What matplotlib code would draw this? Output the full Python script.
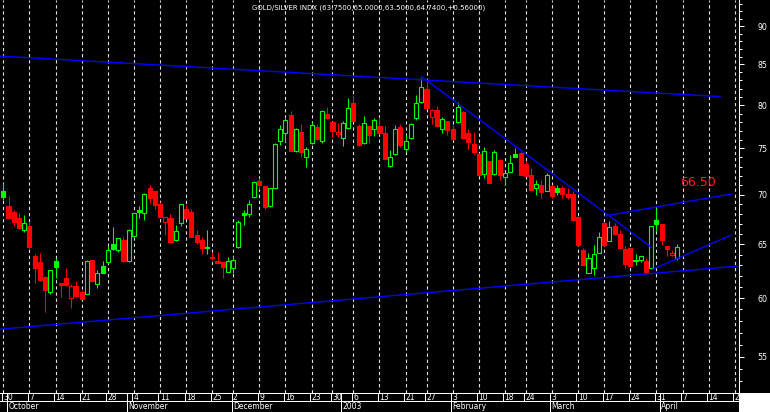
import numpy as np
import matplotlib.pyplot as plt
from matplotlib.patches import Rectangle
from matplotlib.ticker import FuncFormatter, NullFormatter

# daily OHLC, one entry per trading day starting 30 Sep 2002
opens = [70.38, 68.82, 68.21, 67.60, 66.43, 66.80, 63.88, 63.31, 61.91, 60.57,
         63.40, 61.38, 61.80, 60.06, 61.12, 60.54, 60.42, 63.50, 61.24, 62.93,
         63.28, 65.03, 64.48, 65.42, 63.43, 65.84, 68.41, 68.07, 70.72, 70.38,
         69.06, 67.23, 67.65, 65.39, 67.10, 68.51, 68.21, 65.91, 65.42, 64.72,
         63.81, 63.40, 63.33, 62.40, 62.72, 64.72, 68.07, 68.00, 69.72, 71.43,
         70.90, 68.82, 70.66, 75.86, 76.70, 78.82, 74.73, 76.85, 74.00, 75.56,
         77.46, 75.86, 78.94, 78.04, 76.58, 76.21, 77.34, 80.20, 77.54, 75.63,
         77.54, 77.15, 77.54, 76.77, 73.08, 74.37, 77.39, 74.97, 76.21, 78.44,
         80.32, 81.90, 78.62, 79.41, 77.16, 78.12, 77.19, 78.04, 79.21, 76.70,
         75.48, 74.37, 72.15, 73.60, 72.15, 73.71, 71.90, 72.44, 74.33, 74.51,
         73.27, 72.08, 70.66, 71.00, 70.41, 70.90, 70.72, 70.72, 70.06, 70.06,
         67.73, 64.46, 62.31, 62.72, 64.20, 67.07, 65.36, 66.80, 66.00, 64.52,
         64.62, 63.56, 63.56, 63.40, 62.72, 67.40, 66.97, 64.84, 63.98, 63.75]
highs = [71.25, 69.85, 68.41, 68.07, 67.90, 67.23, 64.04, 64.20, 62.00, 62.60,
         63.66, 61.40, 62.75, 61.30, 61.54, 60.78, 63.50, 63.55, 62.56, 63.40,
         64.84, 66.67, 65.60, 65.81, 66.50, 68.10, 68.85, 70.14, 71.00, 70.40,
         69.20, 67.70, 68.00, 66.90, 69.03, 68.92, 68.50, 66.40, 65.74, 66.40,
         64.23, 64.23, 63.35, 63.81, 63.91, 67.40, 68.45, 69.50, 71.40, 71.72,
         70.92, 70.70, 75.63, 77.66, 78.62, 79.29, 77.30, 77.77, 75.19, 78.00,
         77.77, 79.40, 79.80, 78.05, 77.85, 78.12, 80.88, 81.20, 77.77, 78.70,
         77.60, 78.50, 78.62, 77.58, 74.85, 77.66, 77.77, 76.50, 77.90, 81.20,
         83.30, 83.00, 79.50, 79.88, 78.62, 78.15, 77.66, 80.40, 79.25, 77.16,
         76.88, 74.45, 75.19, 73.62, 74.85, 73.80, 72.40, 74.26, 75.00, 74.55,
         73.60, 72.80, 71.60, 71.60, 72.33, 71.05, 71.05, 70.90, 70.72, 70.38,
         67.80, 64.62, 64.20, 64.94, 66.17, 67.23, 67.30, 67.13, 66.46, 64.84,
         64.65, 64.04, 63.91, 63.66, 66.82, 68.65, 67.00, 64.86, 64.46, 65.00]
lows = [69.44, 67.60, 66.80, 66.50, 66.23, 64.70, 61.38, 61.60, 58.79, 60.40,
        61.79, 60.12, 61.10, 59.09, 60.15, 59.90, 60.35, 61.50, 60.93, 62.25,
        63.20, 64.50, 64.30, 63.35, 63.35, 65.80, 67.63, 67.40, 69.10, 68.51,
        67.70, 65.90, 65.15, 65.35, 66.83, 67.60, 65.70, 65.03, 64.04, 64.04,
        63.50, 63.20, 61.79, 62.35, 62.25, 64.70, 66.90, 67.73, 69.70, 70.60,
        68.50, 68.75, 70.60, 75.37, 75.74, 74.70, 74.65, 74.07, 72.91, 75.50,
        76.00, 75.63, 78.33, 76.25, 76.25, 75.26, 77.20, 78.10, 75.30, 75.55,
        75.63, 76.39, 76.65, 73.80, 72.91, 74.30, 75.12, 74.55, 76.10, 78.30,
        80.30, 79.50, 77.77, 77.50, 76.77, 76.50, 76.00, 77.85, 76.15, 74.97,
        74.37, 72.05, 71.78, 71.20, 72.10, 71.51, 71.00, 72.40, 74.07, 72.05,
        71.98, 70.45, 69.95, 69.66, 70.38, 69.70, 69.95, 69.70, 69.60, 67.35,
        64.90, 63.00, 62.25, 62.09, 64.15, 64.90, 65.30, 65.95, 64.60, 62.72,
        62.95, 63.03, 63.33, 62.20, 62.65, 66.33, 64.94, 63.88, 63.90, 63.50]
closes = [69.78, 67.63, 67.23, 66.63, 67.07, 64.77, 62.78, 61.65, 60.75, 62.53,
          62.87, 61.20, 61.17, 61.14, 60.20, 59.94, 63.40, 61.54, 62.25, 62.31,
          64.48, 64.55, 65.59, 63.40, 66.43, 68.07, 68.21, 70.03, 69.68, 68.89,
          67.73, 67.68, 65.25, 66.30, 69.03, 67.63, 65.71, 65.25, 64.62, 64.66,
          63.66, 63.25, 62.87, 63.40, 63.56, 67.17, 67.87, 68.99, 71.36, 71.00,
          68.76, 70.66, 75.45, 77.16, 78.23, 74.73, 77.16, 74.62, 74.97, 77.62,
          76.01, 79.33, 78.44, 76.95, 76.85, 77.92, 79.62, 78.16, 75.37, 77.85,
          76.50, 78.19, 76.70, 73.82, 74.00, 77.19, 75.37, 75.86, 77.73, 80.28,
          82.22, 79.60, 79.45, 77.58, 78.33, 77.08, 76.05, 79.76, 76.21, 75.74,
          74.61, 72.08, 74.70, 71.25, 74.63, 72.08, 72.33, 73.41, 74.07, 72.08,
          72.01, 70.48, 71.18, 70.30, 72.08, 69.85, 70.24, 70.06, 69.78, 67.37,
          64.94, 63.03, 63.75, 64.04, 65.69, 64.94, 66.67, 66.00, 64.67, 63.12,
          62.97, 63.40, 63.91, 62.25, 66.80, 66.97, 65.46, 64.55, 64.18, 64.74]
prev_close = 69.50

# first trading day of each week (index) and its date label
week_idx = [0, 5, 10, 15, 20, 25, 30, 35, 40, 44, 49, 54, 59, 63, 67, 72, 77, 81,
            86, 91, 96, 100, 105, 110, 115, 120, 125, 130, 135, 140]
week_labels = ["30", "7", "14", "21", "28", "4", "11", "18", "25", "2", "9", "16",
               "23", "30", "6", "13", "21", "27", "3", "10", "18", "24", "3", "10",
               "17", "24", "31", "7", "14", "21"]
month_idx = [1, 24, 44, 65, 86, 105, 126]
month_labels = ["October", "November", "December", "2003", "February", "March", "April"]

# trend lines drawn on the chart: (start, end) in day index and price
line_x = [(-0.63, 137.2), (-0.63, 140.4), (80.1, 124.1), (115.2, 139.3), (124.1, 139.3)]
line_y = [(86.06, 81.02), (57.29, 62.93), (83.45, 64.71), (67.83, 70.07), (62.60, 65.91)]

title = "GOLD/SILVER INDX (63.7500,65.0000,63.5000,64.7400,+0.56000)"

W, H = 770, 412
fig = plt.figure(figsize=(W / 100, H / 100), dpi=100, facecolor="black")
ax = fig.add_axes([0, 19.3 / H, 738.7 / W, 392.7 / H], facecolor="black")
ax.set_yscale("log")
ax.set_xlim(-0.632, 140.75)
ax.set_ylim(52.12, 93.56)

o = np.array(opens)
c = np.array(closes)
prev = np.r_[prev_close, c[:-1]]
x = np.arange(len(c))
col = np.where(c > prev, "#00ff00", "#ff0000")
hollow = c > o
bot = np.minimum(o, c)
top = np.maximum(o, c)

# weekly dashed grid
ax.vlines(week_idx, 52.12, 93.56, colors="#e0e0e0", linewidth=0.8,
          linestyles=(0, (3, 2.5)), zorder=1)

ax.vlines(x, lows, highs, colors=col, linewidth=0.75, zorder=3)
ax.bar(x, top - bot, width=0.78, bottom=bot,
       facecolor=np.where(hollow, "black", col), edgecolor=col,
       linewidth=0.8, zorder=4)

for lx, ly in zip(line_x, line_y):
    ax.plot(lx, ly, color="#0000ff", linewidth=1.0, zorder=5)

ax.text(132.9, 71.33, "66.50", color="#ff2020", fontsize=9,
        ha="center", va="center")

ax.yaxis.tick_right()
ax.set_yticks(range(55, 95, 5))
ax.set_yticks(range(53, 94), minor=True)
ax.yaxis.set_major_formatter(FuncFormatter(lambda v, p: f"{v:.0f}"))
ax.yaxis.set_minor_formatter(NullFormatter())
ax.tick_params(axis="y", which="major", colors="white", length=3.6, width=0.72,
               pad=10, labelsize=5.7)
ax.tick_params(axis="y", which="minor", colors="white", length=2.2, width=0.72)
ax.set_xticks([])
for s in ["left", "top", "bottom"]:
    ax.spines[s].set_visible(False)
ax.spines["right"].set_color("white")
ax.spines["right"].set_linewidth(0.72)

# date strip
dax = fig.add_axes([0, 0, 738.7 / W, 19.3 / H], facecolor="black")
dax.set_xlim(ax.get_xlim())
dax.set_ylim(0, 19.3)
dax.axis("off")
dax.axhline(18.9, color="white", linewidth=0.72, clip_on=False)
dax.axhline(11, color="white", linewidth=0.72)
wk = np.array(week_idx) - 0.3
dax.vlines(wk, 11, 19.3, colors="white", linewidth=0.72)
mo = np.array(month_idx) - 0.3
dax.vlines(mo, 0, 19.3, colors="white", linewidth=0.72)
for xi, lab in zip(wk, week_labels):
    dax.text(xi + 0.25, 15.0, lab, color="white", fontsize=5.5, ha="left",
             va="center", clip_on=True)
for xi, lab in zip(mo, month_labels):
    dax.text(xi + 0.25, 5.3, lab, color="white", fontsize=5.5, ha="left",
             va="center", clip_on=True)

fig.add_artist(Rectangle((738.7 / W, 0), 1 - 738.7 / W, 19.3 / H,
                         transform=fig.transFigure, facecolor="white",
                         edgecolor="none"))
fig.text(369 / W, 1 - 7.5 / H, title, color="white", fontsize=5, ha="center",
         va="center")

fig.savefig("out.png", dpi=100, facecolor="black")
